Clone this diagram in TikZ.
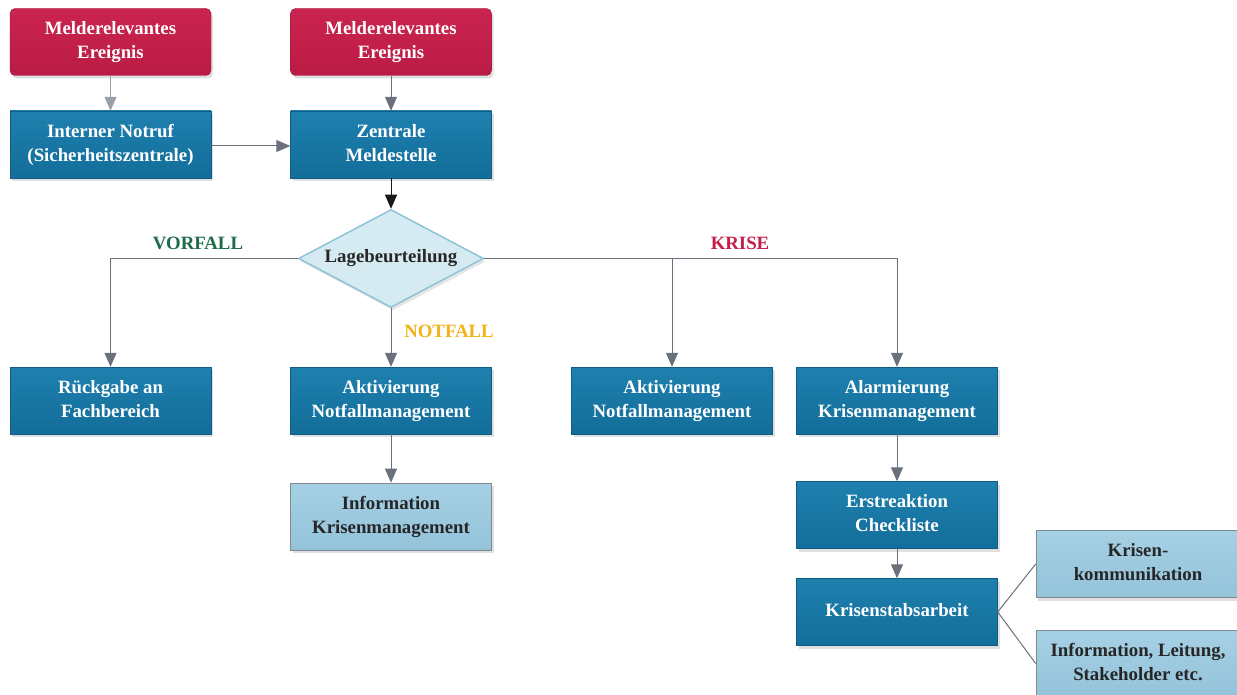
\documentclass[tikz,border=0pt]{standalone}
\usepackage{fontspec}
\setmainfont{Liberation Serif}
\usetikzlibrary{shapes.geometric,shadows,arrows.meta}
\newcommand\ts{\rule[-5pt]{0pt}{19.5pt}}
\newcommand\tsd{\rule[-5.4pt]{0pt}{16pt}}
\definecolor{redtop}{HTML}{CA2450}
\definecolor{redbot}{HTML}{BA1B45}
\definecolor{bluetop}{HTML}{1E80AE}
\definecolor{bluebot}{HTML}{136D9A}
\definecolor{lbtop}{HTML}{A6D0E4}
\definecolor{lbbot}{HTML}{94C3DA}
\definecolor{diafill}{HTML}{D6EAF2}
\definecolor{diadraw}{HTML}{8EC3D8}
\definecolor{arrgray}{HTML}{6B717C}
\definecolor{arrlight}{HTML}{9AA0A8}
\definecolor{vorfall}{HTML}{1E6B4A}
\definecolor{notfall}{HTML}{F2B316}
\definecolor{krise}{HTML}{C41E4A}
\definecolor{boxedge}{HTML}{7E8A96}
\tikzset{
  txt/.style={font=\fontsize{18.8}{24}\selectfont\bfseries, align=center},
  basebox/.style={txt, rectangle, minimum width=201pt, minimum height=67pt, inner sep=0pt,
     drop shadow={opacity=0.25, shadow xshift=2pt, shadow yshift=-3pt}},
  redbox/.style={basebox, rounded corners=5pt, top color=redtop, bottom color=redbot, text=white, draw=redbot!80!black, line width=0.4pt},
  bluebox/.style={basebox, top color=bluetop, bottom color=bluebot, text=white, draw=bluebot!85!black, line width=0.4pt},
  lbox/.style={basebox, top color=lbtop, bottom color=lbbot, text=black!85, draw=boxedge, line width=0.6pt},
  dia/.style={txt, diamond, aspect=1.9, minimum width=185pt, minimum height=98pt, inner sep=0pt,
     fill=diafill, draw=diadraw, line width=1.5pt, text=black!85,
     drop shadow={opacity=0.2, shadow xshift=2pt, shadow yshift=-3pt}},
  arr/.style={draw=arrgray, line width=1pt, -{Triangle[width=12pt,length=14pt]}},
  ln/.style={draw=arrgray, line width=1pt},
  lbl/.style={txt}
}
\begin{document}
\begin{tikzpicture}[x=1pt,y=-1pt]
\useasboundingbox (0,0) rectangle (1237,695);
\clip (0,0) rectangle (1237,695);
\fill[white] (0,0) rectangle (1237,695);

\node[redbox] (r1) at (110.5,42) {\ts Melderelevantes\\\ts Ereignis};
\node[redbox] (r2) at (391,42) {\ts Melderelevantes\\\ts Ereignis};
\node[bluebox] (nr) at (110.5,144.5) {\ts Interner Notruf\\\ts (Sicherheitszentrale)};
\node[bluebox] (zm) at (391,144.5) {\ts Zentrale\\\ts Meldestelle};
\node[dia] (d) at (391,258.5) {\tsd Lagebeurteilung};

\node[bluebox] (rg) at (110.5,400.5) {\ts Rückgabe an\\\ts Fachbereich};
\node[bluebox] (a1) at (391,400.5) {\ts Aktivierung\\\ts Notfallmanagement};
\node[bluebox] (a2) at (672,400.5) {\ts Aktivierung\\\ts Notfallmanagement};
\node[bluebox] (al) at (897,400.5) {\ts Alarmierung\\\ts Krisenmanagement};
\node[lbox] (ik) at (391,516.5) {\ts Information\\\ts Krisenmanagement};
\node[bluebox] (er) at (897,515) {\ts Erstreaktion\\\ts Checkliste};
\node[bluebox] (ks) at (897,612) {\ts Krisenstabsarbeit};
\node[lbox, minimum width=204pt] (kk) at (1138,564) {\ts Krisen-\\\ts kommunikation};
\node[lbox, minimum width=204pt] (il) at (1138,663.5) {\ts Information, Leitung,\\\ts Stakeholder etc.};

\node[lbl, text=vorfall] (lv) at (198,245) {\ts VORFALL};
\node[lbl, text=krise] (lk) at (740,245) {\ts KRISE};
\node[lbl, text=notfall] (ln) at (449,333) {\ts NOTFALL};

\coordinate (j2) at (672,258.5);

\draw[arr, draw=arrlight] (r1) -- (nr);
\draw[arr] (r2) -- (zm);
\draw[arr] ([yshift=-1.5pt]nr.east) -- ([yshift=-1.5pt]zm.west);
\draw[arr, draw=black!90] (zm) -- (d.north);
\draw[arr] (d.west) -| (rg.north);
\draw[arr] (d.south) -- (a1.north);
\draw[arr] (d.east) -| (al.north);
\draw[arr] (j2) -- (a2.north);
\draw[arr] (a1) -- (ik);
\draw[arr] (al) -- (er);
\draw[arr] (er) -- (ks);
\draw[ln] (ks.east) -- (kk.west);
\draw[ln] (ks.east) -- (il.west);
\end{tikzpicture}
\end{document}
